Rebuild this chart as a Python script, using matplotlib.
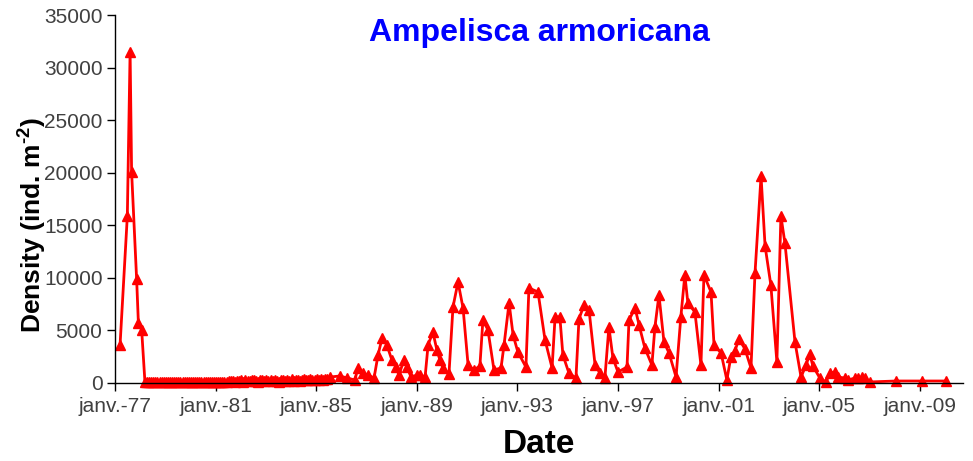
import numpy as np
import matplotlib
matplotlib.use("Agg")
import matplotlib.pyplot as plt

plt.rcParams['font.family'] = ['Liberation Sans', 'DejaVu Sans']
plt.rcParams['mathtext.fontset'] = 'custom'
plt.rcParams['mathtext.rm'] = 'Liberation Sans:bold'
plt.rcParams['mathtext.bf'] = 'Liberation Sans:bold'

# ---- data (decimal years, density ind. m-2) ----
early_dates = [1977.20, 1977.49, 1977.60, 1977.66, 1977.86, 1977.93, 1978.06, 1978.19]
early_values = [3600, 15900, 31550, 20100, 9880, 5700, 5050, 100]

# near-zero period, monthly sampling from April 1978
flat_start = 1978.27
flat_values = [90, 110, 80, 100, 120, 90, 70, 100, 110, 80,
               100, 90, 120, 80, 100, 110, 90, 70, 100, 120,
               90, 100, 80, 110, 100, 90, 120, 80, 100, 90,
               110, 100, 80, 90, 120, 100, 110, 90, 100, 150,
               200, 180, 120, 230, 160, 250, 120, 280, 200, 150,
               260, 310, 180, 120, 240, 300, 150, 260, 200, 330,
               170, 280, 230, 120, 290, 250, 170, 300, 220, 340,
               180, 260, 310, 200, 280, 350, 240, 300, 380, 260,
               320, 400, 280, 350, 300, 420, 360]

late_dates = [1985.55, 1985.95, 1986.22, 1986.54, 1986.66, 1986.86, 1987.06, 1987.30,
              1987.46, 1987.62, 1987.81, 1988.01, 1988.17, 1988.29, 1988.49, 1988.61,
              1988.77, 1989.01, 1989.13, 1989.33, 1989.45, 1989.64, 1989.80, 1989.92,
              1990.04, 1990.28, 1990.44, 1990.64, 1990.84, 1991.04, 1991.27, 1991.51,
              1991.63, 1991.83, 1992.07, 1992.35, 1992.47, 1992.67, 1992.83, 1993.02,
              1993.34, 1993.46, 1993.82, 1994.10, 1994.38, 1994.50, 1994.69, 1994.81,
              1995.05, 1995.33, 1995.45, 1995.65, 1995.85, 1996.09, 1996.28, 1996.48,
              1996.64, 1996.80, 1997.00, 1997.36, 1997.44, 1997.68, 1997.84, 1998.07,
              1998.35, 1998.47, 1998.63, 1998.83, 1999.03, 1999.31, 1999.50, 1999.66,
              1999.78, 2000.06, 2000.30, 2000.42, 2000.70, 2000.82, 2001.10, 2001.33,
              2001.49, 2001.65, 2001.81, 2002.05, 2002.29, 2002.45, 2002.69, 2002.85,
              2003.08, 2003.32, 2003.48, 2003.64, 2004.04, 2004.28, 2004.48, 2004.63,
              2004.75, 2005.03, 2005.27, 2005.43, 2005.63, 2005.75, 2006.03, 2006.15,
              2006.42, 2006.54, 2006.70, 2006.82, 2007.02, 2008.05, 2009.09, 2010.04]
late_values = [570, 670, 480, 290, 1430, 950, 760, 470,
               2670, 4290, 3620, 2190, 1520, 760, 2190, 1520,
               570, 760, 760, 570, 3620, 4860, 3140, 2190,
               1430, 850, 7240, 9620, 7140, 1710, 1240, 1620,
               6000, 5050, 1240, 1430, 3620, 7620, 4570, 2950,
               1520, 9050, 8670, 4100, 1430, 6290, 6290, 2670,
               950, 470, 6100, 7430, 6950, 1710, 950, 470,
               5330, 2380, 1050, 1520, 6000, 7140, 5520, 3330,
               1710, 5330, 8380, 3900, 2860, 570, 6290, 10290,
               7620, 6760, 1710, 10290, 8670, 3620, 2860, 300,
               2480, 3050, 4190, 3240, 1430, 10480, 19710, 13050,
               9330, 2000, 15900, 13330, 3900, 570, 1710, 2760,
               1620, 470, 100, 950, 1050, 570, 470, 290,
               470, 470, 570, 470, 100, 190, 190, 190]

tick_years = [1977, 1981, 1985, 1989, 1993, 1997, 2001, 2005, 2009]
tick_labels = ["janv.-77", "janv.-81", "janv.-85", "janv.-89", "janv.-93",
               "janv.-97", "janv.-01", "janv.-05", "janv.-09"]
y_ticks = [0, 5000, 10000, 15000, 20000, 25000, 30000, 35000]

flat_dates = flat_start + np.arange(len(flat_values)) / 12.0
dates = np.concatenate([early_dates, flat_dates, late_dates])
values = np.concatenate([early_values, flat_values, late_values])

fig = plt.figure(figsize=(9.73, 4.61), dpi=100)
ax = fig.add_axes([0.1182, 0.1692, 0.8715, 0.7972])

ax.plot(dates, values, color='#FF0000', lw=2, marker='^', markersize=6.5,
        markeredgecolor='#FF0000', markerfacecolor='#FF0000', clip_on=False)

ax.set_xlim(1977.0, 2010.72)
ax.set_ylim(0, 35000)
ax.set_xticks(tick_years)
ax.set_xticklabels(tick_labels)
ax.set_yticks(y_ticks)
ax.set_yticklabels([str(v) for v in y_ticks])

for s in ['top', 'right']:
    ax.spines[s].set_visible(False)
for s in ['left', 'bottom']:
    ax.spines[s].set_color('#000000')
    ax.spines[s].set_linewidth(1.0)

ax.tick_params(axis='both', direction='out', length=6, width=1, colors='#000000',
               labelsize=15, labelcolor='#404040')
ax.tick_params(axis='x', pad=4)
ax.tick_params(axis='y', pad=3)

ax.set_xlabel("Date", fontsize=24, fontweight='bold', va='center')
ax.xaxis.set_label_coords(0.5, -0.168)
ax.set_ylabel(r"Density (ind. m$^{\text{-2}}$)", fontsize=19, fontweight='bold', va='center')
ax.yaxis.set_label_coords(-0.099, 0.43)

ax.text(0.5, 0.952, "Ampelisca armoricana", transform=ax.transAxes, ha='center', va='center',
        fontsize=23, fontweight='bold', color='#0000FF')

fig.savefig("out.png", dpi=100)
